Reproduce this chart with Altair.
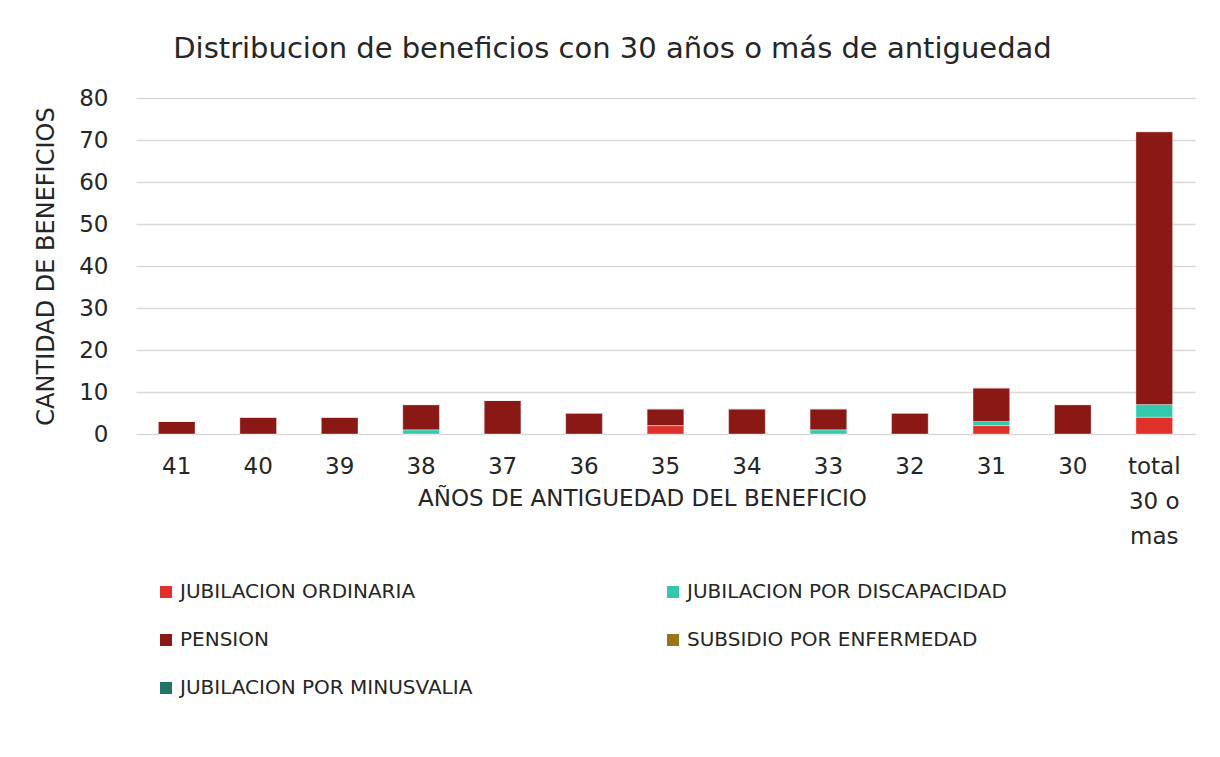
import altair as alt
import pandas as pd

categories = ["41", "40", "39", "38", "37", "36", "35", "34", "33", "32", "31", "30", "total 30 o mas"]
jub_ordinaria = [0, 0, 0, 0, 0, 0, 2, 0, 0, 0, 2, 0, 4]
jub_discapacidad = [0, 0, 0, 1, 0, 0, 0, 0, 1, 0, 1, 0, 3]
pension = [3, 4, 4, 6, 8, 5, 4, 6, 5, 5, 8, 7, 65]
subsidio_enfermedad = [0] * 13
jub_minusvalia = [0] * 13

series_names = ["JUBILACION ORDINARIA", "JUBILACION POR DISCAPACIDAD", "PENSION",
                "SUBSIDIO POR ENFERMEDAD", "JUBILACION POR MINUSVALIA"]
series_values = [jub_ordinaria, jub_discapacidad, pension, subsidio_enfermedad, jub_minusvalia]
series_colors = ["#e0302a", "#33c9ad", "#8a1916", "#9b7713", "#217565"]
stack_order = [0, 1, 2, 3, 4]
# legend fills column by column: reorder so rows read as in the reference
legend_order = [0, 2, 4, 1, 3]

rows = []
for name, vals, o in zip(series_names, series_values, stack_order):
    for c, v in zip(categories, vals):
        rows.append({"cat": c, "serie": name, "valor": v, "orden": o})
df = pd.DataFrame(rows)

legend_domain = [series_names[i] for i in legend_order]
legend_range = [series_colors[i] for i in legend_order]

FONT = "DejaVu Sans"

chart = alt.Chart(df).mark_bar(stroke="#ffffff", strokeWidth=0.6, strokeOpacity=0.6).encode(
    x=alt.X("cat:N", sort=categories,
            scale=alt.Scale(paddingInner=0.55, paddingOuter=0.275),
            axis=alt.Axis(title="AÑOS DE ANTIGUEDAD DEL BENEFICIO", labelAngle=0, ticks=False,
                          domain=False, labelPadding=21, labelFontSize=23, labelColor="#262626",
                          labelLineHeight=35,
                          labelExpr="datum.value == 'total 30 o mas' ? ['total', '30 o', 'mas'] : datum.value",
                          titleFontSize=23, titleFontWeight="normal", titleColor="#262626",
                          titleX=506, titleY=64, titleBaseline="middle")),
    y=alt.Y("valor:Q", stack="zero",
            scale=alt.Scale(domain=[0, 80]),
            axis=alt.Axis(title="CANTIDAD DE BENEFICIOS", values=[0, 10, 20, 30, 40, 50, 60, 70, 80],
                          ticks=False, domain=False, labelPadding=28, labelFontSize=23,
                          labelColor="#262626", gridColor="#d9d9d9", gridWidth=1.5,
                          titleFontSize=24, titleFontWeight="normal", titleColor="#262626",
                          titlePadding=20)),
    color=alt.Color("serie:N",
                    scale=alt.Scale(domain=legend_domain, range=legend_range),
                    legend=alt.Legend(title=None, orient="none", legendX=20, legendY=484,
                                      columns=2, columnPadding=190, rowPadding=28,
                                      symbolType="square", symbolSize=144, symbolStrokeWidth=0,
                                      labelFontSize=20, labelColor="#262626", labelLimit=500,
                                      labelOffset=4)),
    order=alt.Order("orden:Q"),
).properties(
    width=1059, height=336,
    title=alt.TitleParams("Distribucion de beneficios con 30 años o más de antiguedad",
                          fontSize=29, fontWeight="normal", color="#262626", dx=-53, offset=23),
    padding={"left": 26, "top": 27, "right": 5, "bottom": 5},
).configure(font=FONT).configure_view(stroke=None)

chart.save("out.html", embed_options={"renderer": "svg", "actions": False})
